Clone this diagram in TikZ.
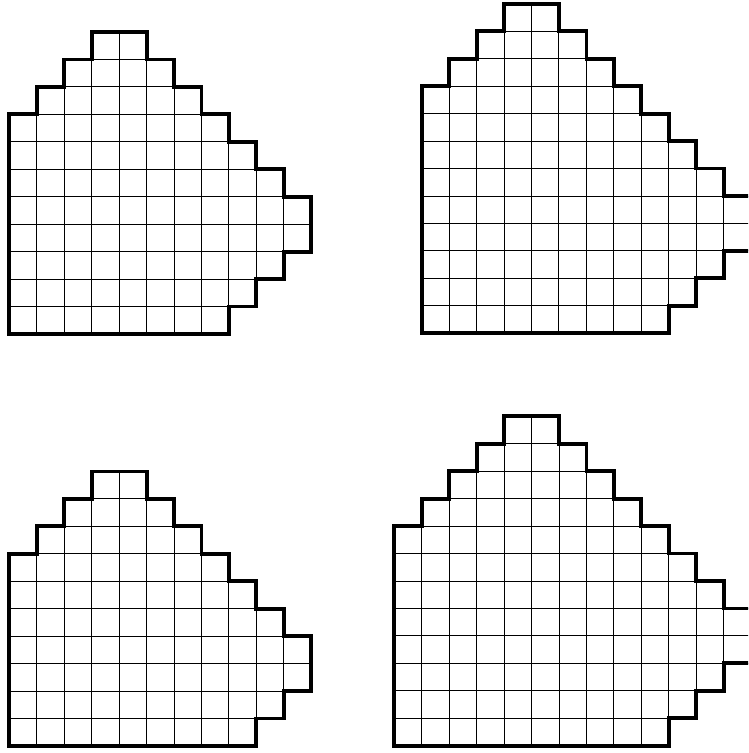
\documentclass[tikz,border=0pt]{standalone}
\usepackage{tikz}

\begin{document}
\begin{tikzpicture}[
  x=0.5cm, y=0.5cm,
  cellgrid/.style={line width=0.5pt, black, step=0.5cm},
  rim/.style={line width=2pt, black, line join=miter}
]
\clip (0,0) rectangle (27.25,27.43);

% top left
\begin{scope}[shift={(0.34,15.264)}]
\foreach \c/\b/\t in {0/0/8, 1/0/9, 2/0/10, 3/0/11, 4/0/11, 5/0/10, 6/0/9, 7/0/8, 8/1/7, 9/2/6, 10/3/5}
  \draw[cellgrid] (\c,\b) grid (\c+1,\t);
\draw[rim] (0,0) -| (8,1) -| (9,2) -| (10,3) -| (11,5) -| (10,6) -| (9,7) -| (8,8) -| (7,9)
  -| (6,10) -| (5,11) -| (3,10) -| (2,9) -| (1,8) -- (0,8) -- cycle;
\end{scope}

% top right
\begin{scope}[shift={(15.362,15.29)}]
\foreach \c/\b/\t in {0/0/9, 1/0/10, 2/0/11, 3/0/12, 4/0/12, 5/0/11, 6/0/10, 7/0/9, 8/0/8, 9/1/7, 10/2/6, 11/3/5}
  \draw[cellgrid] (\c,\b) grid (\c+1,\t);
\draw[rim] (0,0) -| (9,1) -| (10,2) -| (11,3) -| (12,5) -| (11,6) -| (10,7) -| (9,8) -| (8,9)
  -| (7,10) -| (6,11) -| (5,12) -| (3,11) -| (2,10) -| (1,9) -- (0,9) -- cycle;
\end{scope}

% bottom left
\begin{scope}[shift={(0.34,0.255)}]
\foreach \c/\b/\t in {0/0/7, 1/0/8, 2/0/9, 3/0/10, 4/0/10, 5/0/9, 6/0/8, 7/0/7, 8/0/6, 9/1/5, 10/2/4}
  \draw[cellgrid] (\c,\b) grid (\c+1,\t);
\draw[rim] (0,0) -| (9,1) -| (10,2) -| (11,4) -| (10,5) -| (9,6) -| (8,7) -| (7,8)
  -| (6,9) -| (5,10) -| (3,9) -| (2,8) -| (1,7) -- (0,7) -- cycle;
\end{scope}

% bottom right
\begin{scope}[shift={(14.364,0.266)}]
\foreach \c/\b/\t in {0/0/8, 1/0/9, 2/0/10, 3/0/11, 4/0/12, 5/0/12, 6/0/11, 7/0/10, 8/0/9, 9/0/8, 10/1/7, 11/2/6, 12/3/5}
  \draw[cellgrid] (\c,\b) grid (\c+1,\t);
\draw[rim] (0,0) -| (10,1) -| (11,2) -| (12,3) -| (13,5) -| (12,6) -| (11,7) -| (10,8) -| (9,9)
  -| (8,10) -| (7,11) -| (6,12) -| (4,11) -| (3,10) -| (2,9) -| (1,8) -- (0,8) -- cycle;
\end{scope}
\end{tikzpicture}
\end{document}
